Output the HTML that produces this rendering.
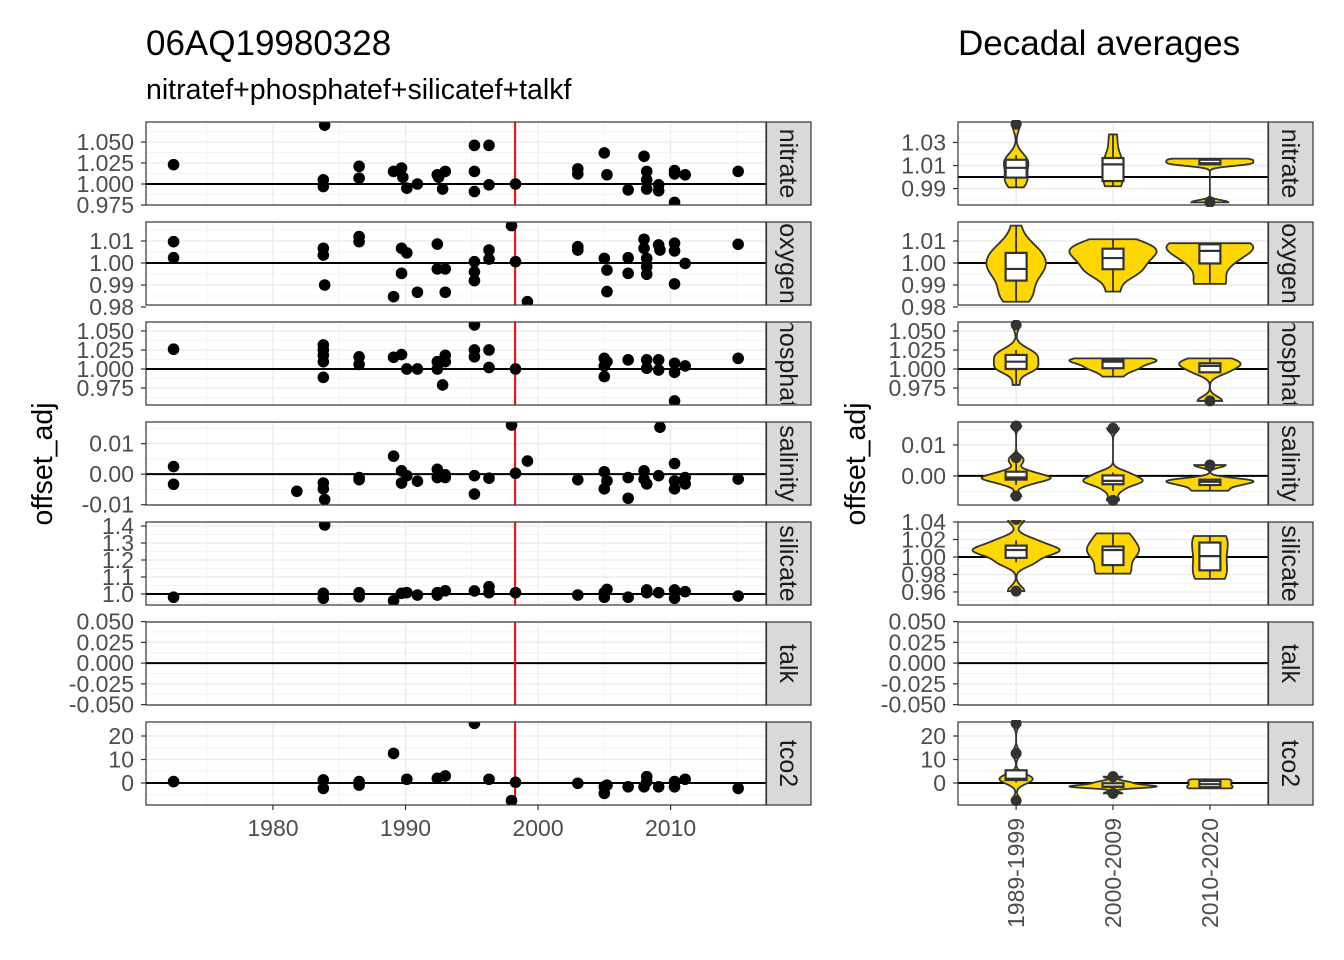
<!DOCTYPE html>
<html><head><meta charset="utf-8">
<style>
html,body{margin:0;padding:0;background:#fff;}
svg{display:block;font-family:"Liberation Sans",sans-serif;}
</style></head>
<body>
<svg id="chart" width="1344" height="960" viewBox="0 0 1344 960" xmlns="http://www.w3.org/2000/svg">
<text x="146" y="55" font-size="35" fill="#000">06AQ19980328</text>
<text x="146" y="99" font-size="28.5" fill="#000">nitratef+phosphatef+silicatef+talkf</text>
<text x="958" y="55" font-size="35" fill="#000">Decadal averages</text>
<text transform="translate(52,464) rotate(-90)" text-anchor="middle" font-size="28.5" fill="#000">offset_adj</text>
<text transform="translate(865,464) rotate(-90)" text-anchor="middle" font-size="28.5" fill="#000">offset_adj</text>
</svg>
<script>
const varNames = ['nitrate','oxygen','phosphate','salinity','silicate','talk','tco2'];
const decadeLabels = ['1989-1999','2000-2009','2010-2020'];
const decadeStarts = [1989,2000,2010];
const decadeEnds = [2000,2010,2021];
const yearTicks = [1980,1990,2000,2010];
const crossoverYear = 1998.27;

const nitratePts = [[1972.5,1.023],[1983.9,1.070],[1983.8,1.005],[1983.8,0.997],[1986.5,1.021],[1986.5,1.007],[1989.1,1.015],[1989.7,1.019],[1990.1,0.995],[1989.8,1.008],[1990.9,1.000],[1992.4,1.011],[1993.0,1.015],[1992.8,0.994],[1992.5,1.008],[1995.2,1.046],[1996.3,1.046],[1995.2,1.015],[1995.2,0.991],[1996.3,0.999],[1998.3,1.000],[2003.0,1.018],[2003.0,1.012],[2005.0,1.037],[2005.2,1.011],[2006.8,0.993],[2008.0,1.033],[2008.2,1.015],[2008.2,1.005],[2008.2,0.994],[2009.1,0.999],[2009.1,0.992],[2010.3,1.012],[2010.3,1.016],[2011.1,1.011],[2010.3,0.978],[2015.1,1.015]];
const oxygenPts = [[1972.5,1.0097],[1972.5,1.0024],[1983.8,1.0067],[1983.8,1.0036],[1983.9,0.990],[1986.5,1.012],[1986.5,1.0097],[1989.7,1.0067],[1990.1,1.0046],[1989.1,0.9847],[1990.9,0.9867],[1989.7,0.9953],[1992.4,1.0086],[1992.4,0.9973],[1993.0,0.9973],[1993.0,0.9867],[1995.2,1.0006],[1995.2,0.996],[1995.2,0.992],[1996.3,1.0059],[1996.3,1.0018],[1998.0,1.017],[1998.3,1.0006],[1999.2,0.9824],[2003.0,1.0074],[2003.0,1.0059],[2005.0,1.0021],[2005.2,0.9968],[2005.2,0.987],[2006.8,1.0024],[2006.8,0.9953],[2008.0,1.0108],[2008.0,1.0067],[2008.2,1.0021],[2008.2,0.9983],[2008.2,0.9949],[2009.1,1.0082],[2009.2,1.0059],[2010.3,1.009],[2010.3,1.0055],[2010.3,0.9905],[2011.1,0.9998],[2015.1,1.0085]];
const phosphatePts = [[1972.5,1.026],[1983.8,1.0316],[1983.8,1.025],[1983.8,1.018],[1983.8,1.0096],[1983.8,0.989],[1986.5,1.016],[1986.5,1.006],[1989.1,1.0154],[1989.7,1.019],[1990.1,1.000],[1990.9,1.000],[1992.4,1.0096],[1992.4,1.000],[1993.0,1.018],[1993.0,1.0096],[1992.8,0.979],[1995.2,1.058],[1995.2,1.025],[1995.2,1.016],[1996.3,1.025],[1996.3,1.002],[1998.3,1.000],[2005.0,1.014],[2005.0,1.004],[2005.0,0.990],[2005.2,1.0096],[2006.8,1.012],[2008.2,1.012],[2008.2,1.001],[2009.1,1.012],[2009.1,0.9987],[2010.3,1.0075],[2010.3,0.9956],[2011.1,1.004],[2010.3,0.958],[2015.1,1.014]];
const salinityPts = [[1972.5,0.0025],[1972.5,-0.0033],[1981.8,-0.0056],[1983.8,-0.0029],[1983.8,-0.0048],[1983.9,-0.0083],[1986.5,-0.0011],[1986.5,-0.0018],[1989.1,0.0059],[1989.7,0.0011],[1989.7,-0.0029],[1990.1,-0.0005],[1990.9,-0.0023],[1992.4,0.0016],[1992.4,-0.0011],[1993.0,-0.0002],[1993.0,-0.0011],[1995.2,-0.0005],[1995.2,-0.0065],[1996.3,-0.0013],[1998.0,0.0161],[1998.3,0.0003],[1999.2,0.0043],[2003.0,-0.0018],[2005.0,0.0008],[2005.0,-0.0048],[2005.2,-0.0022],[2006.8,-0.0011],[2006.8,-0.0079],[2008.0,0.0011],[2008.0,-0.0016],[2008.2,-0.0032],[2009.1,-0.0005],[2009.2,0.0154],[2010.3,0.0035],[2010.3,-0.0022],[2010.3,-0.0048],[2011.1,-0.0032],[2011.1,-0.0011],[2015.1,-0.0016]];
const silicatePts = [[1972.5,0.981],[1983.8,1.004],[1983.8,0.975],[1983.9,1.406],[1986.5,1.008],[1986.5,0.984],[1989.1,0.961],[1989.7,1.004],[1990.1,1.008],[1990.9,0.994],[1992.4,1.008],[1992.4,0.994],[1993.0,1.019],[1995.2,1.018],[1996.3,1.043],[1996.3,1.008],[1998.3,1.008],[2003.0,0.994],[2005.0,1.008],[2005.2,1.027],[2005.0,0.981],[2006.8,0.981],[2008.2,1.024],[2008.2,1.008],[2009.1,1.008],[2010.3,1.024],[2010.3,0.975],[2011.1,1.014],[2015.1,0.988]];
const talkPts = [];
const tco2Pts = [[1972.5,0.6],[1983.8,1.3],[1983.8,-2.3],[1986.5,0.6],[1986.5,-0.9],[1989.1,12.6],[1990.1,1.6],[1992.4,2.0],[1993.0,3.0],[1995.2,25.4],[1996.3,1.6],[1998.0,-7.5],[1998.3,0.3],[2003.0,-0.1],[2005.0,-1.6],[2005.0,-4.4],[2005.2,-0.9],[2006.8,-1.6],[2008.0,-1.6],[2008.2,2.7],[2008.2,0.6],[2009.1,-1.6],[2010.3,-1.6],[2010.3,0.6],[2011.1,1.6],[2015.1,-2.3]];
const allPts = [nitratePts,oxygenPts,phosphatePts,salinityPts,silicatePts,talkPts,tco2Pts];

const leftTicks = [[1.050,1.025,1.000,0.975],[1.01,1.00,0.99,0.98],[1.050,1.025,1.000,0.975],[0.01,0.00,-0.01],[1.4,1.3,1.2,1.1,1.0],[0.050,0.025,0.000,-0.025,-0.050],[20,10,0]];
const rightTicks = [[1.03,1.01,0.99],[1.01,1.00,0.99,0.98],[1.050,1.025,1.000,0.975],[0.01,0.00],[1.04,1.02,1.00,0.98,0.96],[0.050,0.025,0.000,-0.025,-0.050],[20,10,0]];
const tickDecimals = [3,2,3,2,1,3,0];
const rightDecimals = [2,2,3,2,2,3,0];
const refValues = [1,1,1,0,1,0,0];
const leftDomains = [[0.975,1.0738],[0.98091,1.01864],[0.95263,1.0618],[-0.0101,0.0171],[0.9353,1.4235],[-0.0505,0.0495],[-9.36,25.96]];
const rightDomains = [[0.9757,1.0478],[0.98091,1.01864],[0.95263,1.0618],[-0.0094,0.0174],[0.9451,1.04],[-0.0505,0.0495],[-9.36,25.96]];

const NS='http://www.w3.org/2000/svg';
const svg=document.getElementById('chart');
function mk(tag,attrs,parent){const e=document.createElementNS(NS,tag);for(const k in attrs)e.setAttribute(k,attrs[k]);(parent||svg).appendChild(e);return e;}
const LX0=146,LX1=766,RX0=958,RX1=1268,PH=83;
const yrMin=1970.42,yrMax=2017.2;
const TFS=23;
function xYear(y){return LX0+(y-yrMin)/(yrMax-yrMin)*(LX1-LX0);}
function xCat(i){return RX0+(i+1-0.4)/3.2*(RX1-RX0);}
function yScale(dom,top){return v=>top+PH-(v-dom[0])/(dom[1]-dom[0])*PH;}
function fmt(v,d){return v.toFixed(d);}
function quant(s,p){const h=(s.length-1)*p,l=Math.floor(h);return s[l]+(h-l)*((s[Math.min(l+1,s.length-1)])-s[l]);}
function sd(a){const m=a.reduce((x,y)=>x+y,0)/a.length;return Math.sqrt(a.reduce((x,y)=>x+(y-m)*(y-m),0)/(a.length-1));}

const defs=mk('defs',{});
function strip(nm,x,top,id,side){
  const sg=mk('g',{});
  
  
  const scp=mk('clipPath',{id:id},defs);mk('rect',{x:x+1,y:top+1,width:43,height:PH-2},scp);
  mk('rect',{x:x+0.5,y:top,width:44.5,height:PH,fill:'#d9d9d9',stroke:'#333','stroke-width':1.2},sg);
  const cg=mk('g',{'clip-path':'url(#'+id+')'},sg);
  const st=mk('text',{transform:'translate('+(x+14)+','+(top+PH/2)+') rotate(90)','text-anchor':'middle','font-size':25,fill:'#1a1a1a'},cg);
  st.textContent=nm;
}
varNames.forEach((nm,i)=>{
  const top=122+i*100;
  const pts=allPts[i];
  const ysL=yScale(leftDomains[i],top);
  const gL=mk('g',{});
  
  
  mk('rect',{x:LX0,y:top,width:LX1-LX0,height:PH,fill:'#fff'},gL);
  const tks=leftTicks[i];const step=Math.abs(tks[0]-tks[1]);
  for(let k=-1;k<tks.length;k++){const v=(k<0?tks[0]:tks[k])+(k<0?step/2:-step/2);const y=ysL(v);if(y>top&&y<top+PH)mk('line',{x1:LX0,x2:LX1,y1:y,y2:y,stroke:'#f0f0f0','stroke-width':0.8},gL);}
  for(let yr=1975;yr<=2015;yr+=10)mk('line',{x1:xYear(yr),x2:xYear(yr),y1:top,y2:top+PH,stroke:'#f0f0f0','stroke-width':0.8},gL);
  tks.forEach(v=>{const y=ysL(v);if(y>=top-1&&y<=top+PH+1)mk('line',{x1:LX0,x2:LX1,y1:y,y2:y,stroke:'#ebebeb','stroke-width':1.3},gL);});
  yearTicks.forEach(yr=>mk('line',{x1:xYear(yr),x2:xYear(yr),y1:top,y2:top+PH,stroke:'#ebebeb','stroke-width':1.3},gL));
  const ref=mk('line',{x1:LX0,x2:LX1,y1:ysL(refValues[i]),y2:ysL(refValues[i]),stroke:'#000','stroke-width':2},gL);
  
  
  const cp=mk('clipPath',{id:'clipL'+i},defs);mk('rect',{x:LX0,y:top,width:LX1-LX0,height:PH},cp);
  const gp=mk('g',{'clip-path':'url(#clipL'+i+')'},gL);
  const rl=mk('line',{x1:xYear(crossoverYear),x2:xYear(crossoverYear),y1:top,y2:top+PH,stroke:'#ff0000','stroke-width':2},gp);
  
  
  pts.forEach(p=>{const c=mk('circle',{cx:xYear(p[0]),cy:ysL(p[1]),r:5.8,fill:'#000'},gp);
    
    });
  mk('rect',{x:LX0,y:top,width:LX1-LX0,height:PH,fill:'none',stroke:'#333','stroke-width':1.2},gL);
  tks.forEach(v=>{const y=ysL(v);
    mk('line',{x1:LX0-5,x2:LX0,y1:y,y2:y,stroke:'#333','stroke-width':1.2},gL);
    const t=mk('text',{x:LX0-12,y:y+8,'text-anchor':'end','font-size':TFS,fill:'#4d4d4d'},gL);t.textContent=fmt(v,tickDecimals[i]);
    
    });
  strip(nm,766,top,'clipS'+i,'left');
  const ysR=yScale(rightDomains[i],top);
  const gR=mk('g',{});
  
  
  mk('rect',{x:RX0,y:top,width:RX1-RX0,height:PH,fill:'#fff'},gR);
  const rt=rightTicks[i];const rs=Math.abs(rt[0]-rt[1]);
  for(let k=-1;k<rt.length;k++){const v=(k<0?rt[0]:rt[k])+(k<0?rs/2:-rs/2);const y=ysR(v);if(y>top&&y<top+PH)mk('line',{x1:RX0,x2:RX1,y1:y,y2:y,stroke:'#f0f0f0','stroke-width':0.8},gR);}
  rt.forEach(v=>{const y=ysR(v);mk('line',{x1:RX0,x2:RX1,y1:y,y2:y,stroke:'#ebebeb','stroke-width':1.3},gR);});
  for(let c=0;c<3;c++)mk('line',{x1:xCat(c),x2:xCat(c),y1:top,y2:top+PH,stroke:'#ebebeb','stroke-width':1.3},gR);
  mk('line',{x1:RX0,x2:RX1,y1:ysR(refValues[i]),y2:ysR(refValues[i]),stroke:'#000','stroke-width':2},gR);
  const cpr=mk('clipPath',{id:'clipR'+i},defs);mk('rect',{x:RX0,y:top-2,width:RX1-RX0,height:PH+4},cpr);
  const gv=mk('g',{'clip-path':'url(#clipR'+i+')'},gR);
  const groups=decadeStarts.map((s,gi)=>pts.filter(p=>p[0]>=s&&p[0]<decadeEnds[gi]).map(p=>p[1]));
  const dens=groups.map(vals=>{
    if(vals.length<2)return null;
    const s=vals.slice().sort((a,b)=>a-b);
    const iqr=quant(s,0.75)-quant(s,0.25);
    let bw=0.9*Math.min(sd(s),iqr/1.34||sd(s))*Math.pow(s.length,-0.2);
    if(!(bw>0))bw=Math.abs(s[0])*0.01||1e-6;
    const N=200,out=[];
    for(let k=0;k<N;k++){const y=s[0]+(s[s.length-1]-s[0])*k/(N-1);let d=0;s.forEach(v=>{const z=(y-v)/bw;d+=Math.exp(-0.5*z*z);});d/=s.length*bw*Math.sqrt(2*Math.PI);out.push([y,d]);}
    return out;});
  let maxD=0;dens.forEach(d=>{if(d)d.forEach(p=>{if(p[1]>maxD)maxD=p[1];});});
  const hw=0.45*(RX1-RX0)/3.2;
  groups.forEach((vals,gi)=>{
    if(!vals.length)return;
    const cx=xCat(gi);
    const d=dens[gi];
    if(d){
      let path='';
      d.forEach((p,k)=>{path+=(k?'L':'M')+(cx+p[1]/maxD*hw).toFixed(2)+','+ysR(p[0]).toFixed(2);});
      for(let k=d.length-1;k>=0;k--){path+='L'+(cx-d[k][1]/maxD*hw).toFixed(2)+','+ysR(d[k][0]).toFixed(2);}
      const vp=mk('path',{d:path+'Z',fill:'#ffd700',stroke:'#333','stroke-width':1.8},gv);
      
      
    }
    const s=vals.slice().sort((a,b)=>a-b);
    const q1=quant(s,0.25),q2=quant(s,0.5),q3=quant(s,0.75),iq=q3-q1;
    const lo=s.find(v=>v>=q1-1.5*iq),hi=s.slice().reverse().find(v=>v<=q3+1.5*iq);
    mk('line',{x1:cx,x2:cx,y1:ysR(hi),y2:ysR(q3),stroke:'#333','stroke-width':1.8},gv);
    mk('line',{x1:cx,x2:cx,y1:ysR(lo),y2:ysR(q1),stroke:'#333','stroke-width':1.8},gv);
    const bx=mk('rect',{x:cx-10.5,y:ysR(q3),width:21,height:Math.max(0.1,ysR(q1)-ysR(q3)),fill:'#fff',stroke:'#333','stroke-width':2.2},gv);
    
    
    mk('line',{x1:cx-10.5,x2:cx+10.5,y1:ysR(q2),y2:ysR(q2),stroke:'#333','stroke-width':2.2},gv);
    s.filter(v=>v<lo||v>hi).forEach(v=>{const o=mk('circle',{cx:cx,cy:ysR(v),r:5.5,fill:'#333'},gv);
      
      });
  });
  mk('rect',{x:RX0,y:top,width:RX1-RX0,height:PH,fill:'none',stroke:'#333','stroke-width':1.2},gR);
  rt.forEach(v=>{const y=ysR(v);
    mk('line',{x1:RX0-5,x2:RX0,y1:y,y2:y,stroke:'#333','stroke-width':1.2},gR);
    const t=mk('text',{x:RX0-12,y:y+8,'text-anchor':'end','font-size':TFS,fill:'#4d4d4d'},gR);t.textContent=fmt(v,rightDecimals[i]);
    
    });
  strip(nm,1268,top,'clipS2'+i,'right');
});
const axB=122+6*100+PH;
yearTicks.forEach(yr=>{const x=xYear(yr);
  mk('line',{x1:x,x2:x,y1:axB,y2:axB+5,stroke:'#333','stroke-width':1.2});
  const t=mk('text',{x:x,y:axB+31,'text-anchor':'middle','font-size':TFS,fill:'#4d4d4d'});t.textContent=yr;
  
  });
decadeLabels.forEach((lb,gi)=>{const x=xCat(gi);
  mk('line',{x1:x,x2:x,y1:axB,y2:axB+5,stroke:'#333','stroke-width':1.2});
  const t=mk('text',{transform:'translate('+(x+8)+','+(axB+13)+') rotate(-90)','text-anchor':'end','font-size':TFS,fill:'#4d4d4d'});t.textContent=lb;
  
  });
</script>
</body></html>
